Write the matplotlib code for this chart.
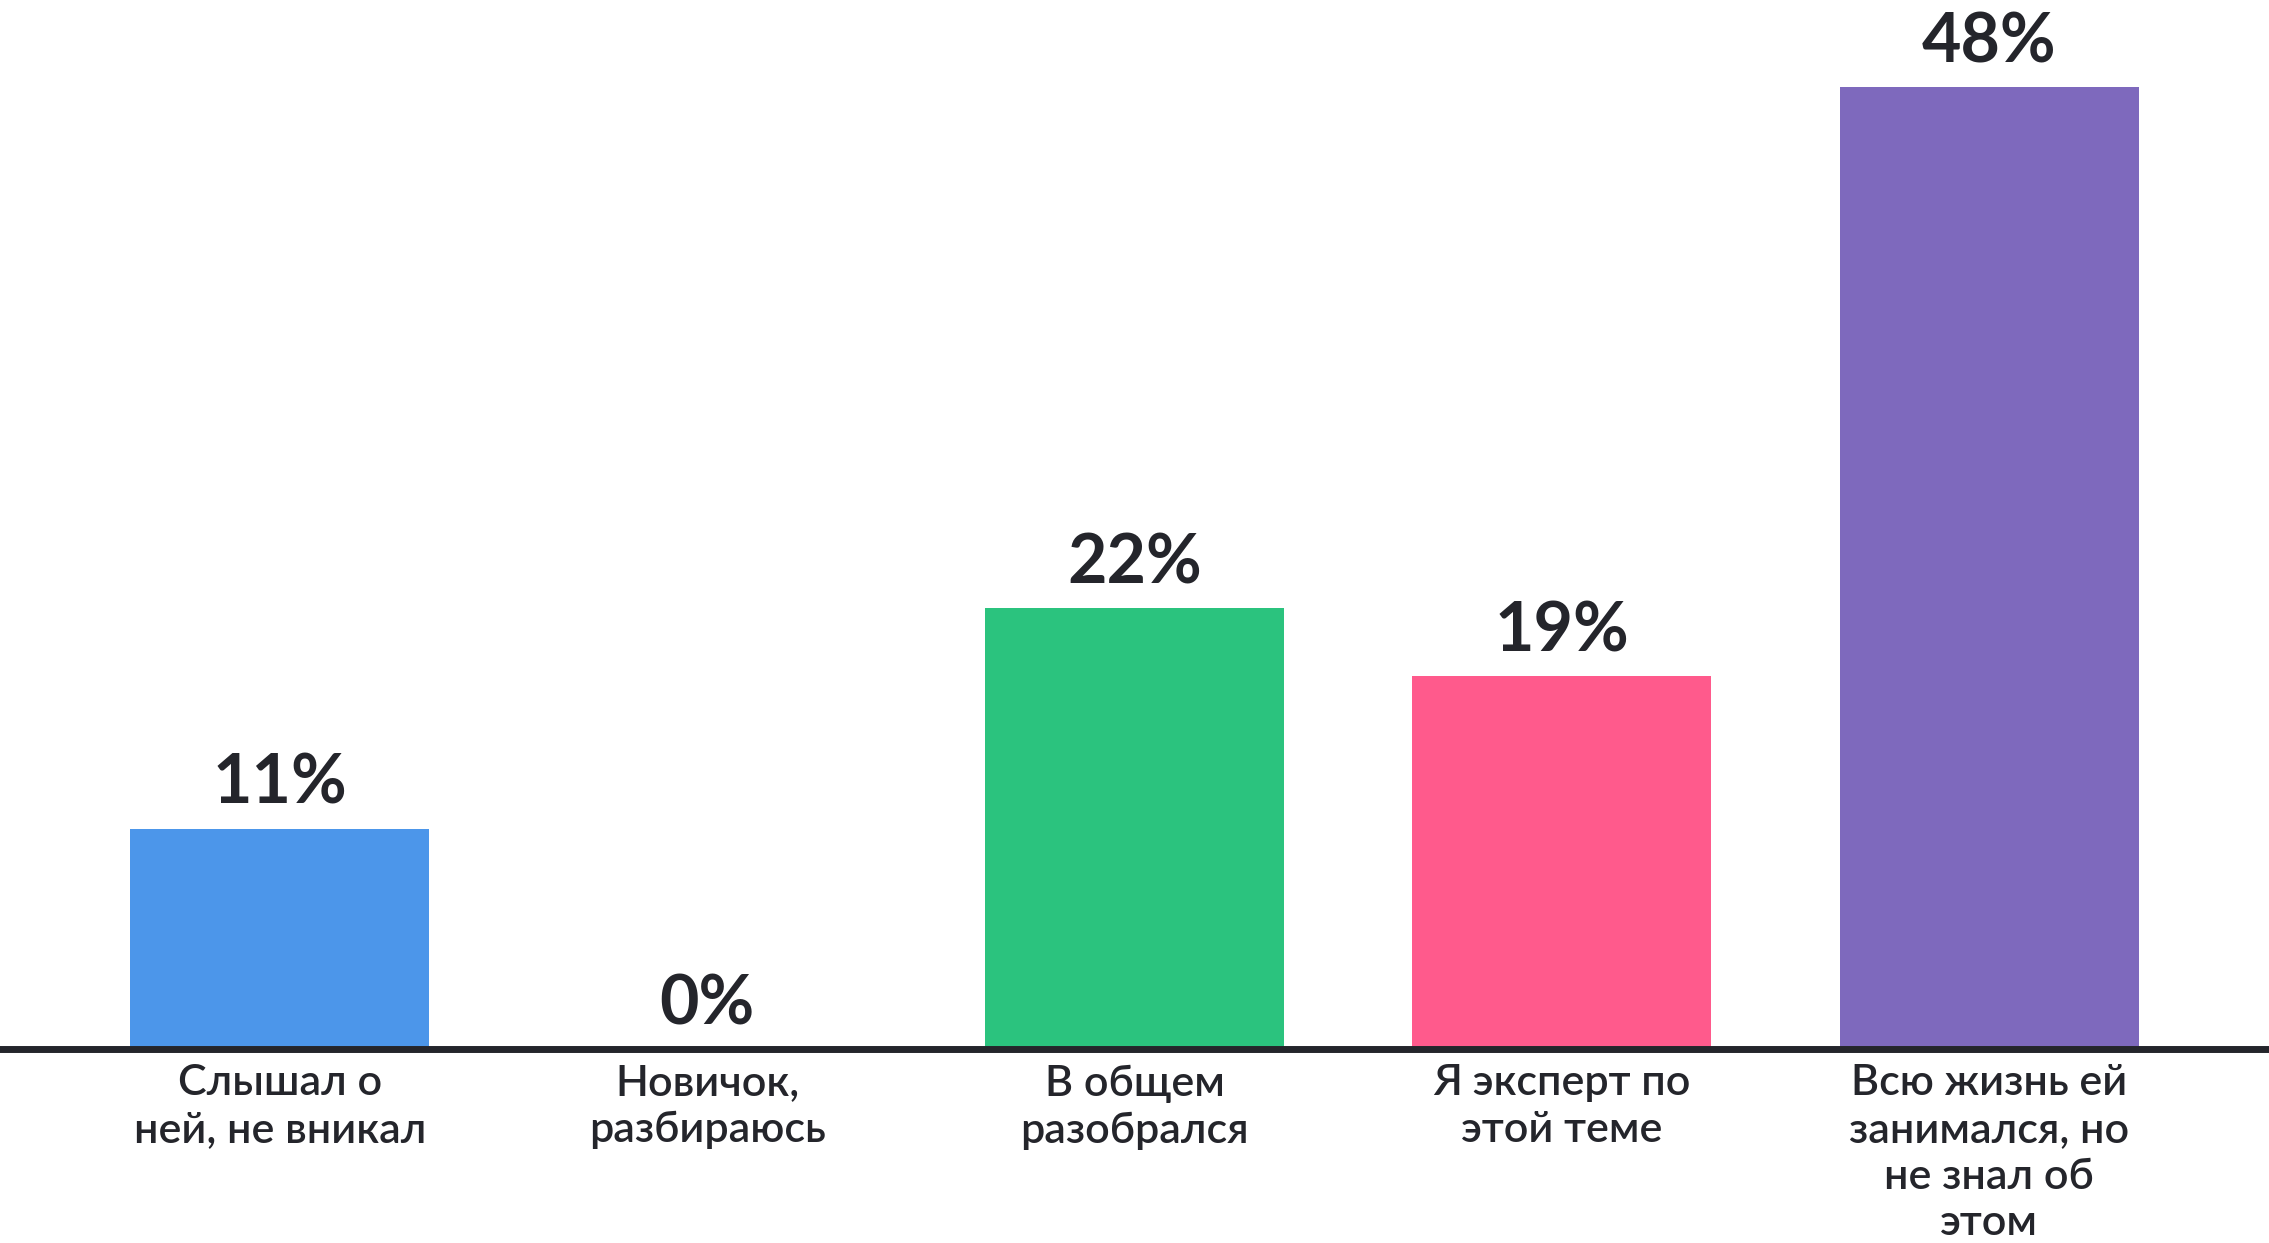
import matplotlib.pyplot as plt
import numpy as np

# survey answers (share of respondents, %)
categories = ['Слышал о\nней, не вникал', 'Новичок,\nразбираюсь', 'В общем\nразобрался',
              'Я эксперт по\nэтой теме', 'Всю жизнь ей\nзанимался, но\nне знал об\nэтом']
values = [11, 0, 22, 18.6, 48]
colors = ['#4C96EA', '#4C96EA', '#2BC37E', '#FF5A8C', '#7E69BD']

text_col = '#24252B'
plt.rcParams['font.family'] = ['Lato', 'DejaVu Sans']

fig = plt.figure(figsize=(22.69, 12.43), dpi=100)
ax = fig.add_axes([0, 0.156, 1, 0.844])

x = np.arange(len(values))
bars = ax.bar(x, values, width=0.70, color=colors, zorder=2)

for xi, v in zip(x, values):
    ax.annotate('%d%%' % round(v), (xi, v), xytext=(0, 18), textcoords='offset points',
                ha='center', va='baseline', fontsize=49, fontweight='bold', color=text_col)
    ax.annotate(categories[xi], (xi, 0), xytext=(0, -11), textcoords='offset points',
                ha='center', va='top', fontsize=31, fontweight='semibold', color=text_col,
                linespacing=1.28, annotation_clip=False)

ax.axhline(0, color=text_col, lw=5, zorder=3, clip_on=False)

ax.set_xlim(-0.655, 4.655)
ax.set_ylim(0, 52.35)
ax.axis('off')

plt.savefig('out.png', dpi=100)
